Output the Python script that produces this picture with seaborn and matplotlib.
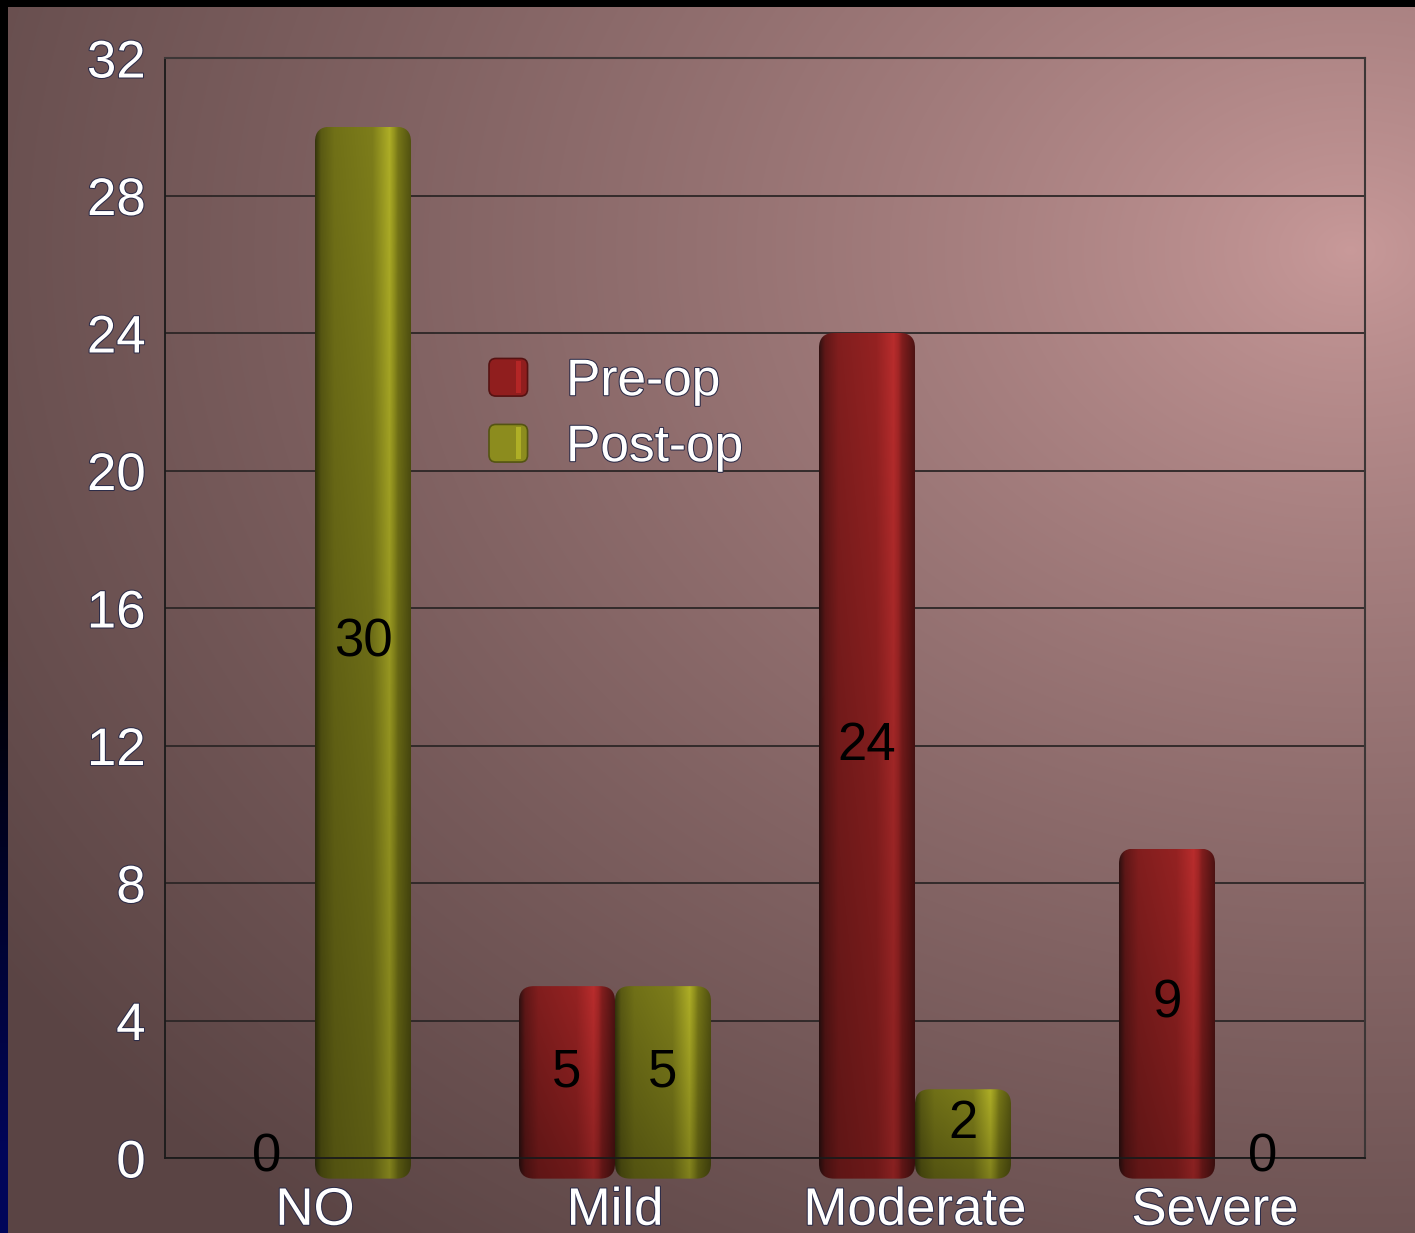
import numpy as np
import pandas as pd
import matplotlib
matplotlib.use("Agg")
import matplotlib.pyplot as plt
import matplotlib.patheffects as pe
import seaborn as sns
from matplotlib.patches import FancyBboxPatch, Rectangle, Patch
from matplotlib.legend_handler import HandlerPatch
from matplotlib.colors import to_rgb

# ---- data -------------------------------------------------------------
categories = ["NO", "Mild", "Moderate", "Severe"]
series = ["Pre-op", "Post-op"]
pre_op = [0, 5, 24, 9]
post_op = [30, 5, 2, 0]
y_ticks = [0, 4, 8, 12, 16, 20, 24, 28, 32]

df = pd.DataFrame({
    "category": categories * 2,
    "series": [series[0]] * len(categories) + [series[1]] * len(categories),
    "value": pre_op + post_op,
})

# ---- style ------------------------------------------------------------
sns.set_theme(style="white")
plt.rcParams["font.family"] = ["Liberation Sans", "DejaVu Sans"]

W, H = 1415, 1233
fig = plt.figure(figsize=(W / 100, H / 100), dpi=100)

# background: soft radial glow from the upper right, dark frame on top/left
yy, xx = np.mgrid[0:H, 0:W].astype(float)
dist = np.sqrt((xx - 1350) ** 2 + ((yy - 250) * 1.3) ** 2)
t = np.clip(dist / 1650.0, 0, 1) ** 0.8
light = np.array([201, 154, 154]) / 255.0
dark = np.array([90, 68, 68]) / 255.0
bg_img = light[None, None, :] + (dark - light)[None, None, :] * t[..., None]
bg_img[:7, :, :] = 0.0
strip = np.zeros((H, 3))
navy = np.clip((np.arange(H) - 650) / 500.0, 0, 1)
strip[:, 2] = 0.35 * navy
strip[:, 1] = 0.02 * navy
bg_img[:, :8, :] = strip[:, None, :]

bg = fig.add_axes([0, 0, 1, 1], zorder=0)
bg.imshow(bg_img, extent=[0, W, H, 0], aspect="auto", interpolation="bilinear")
bg.set_axis_off()

ax = fig.add_axes([165 / W, 75 / H, 1200 / W, 1100 / H], zorder=1)
ax.set_facecolor("none")

pre_color = "#8e2020"
post_color = "#7a7a1a"
sns.barplot(data=df, x="category", y="value", hue="series",
            order=categories, hue_order=series,
            palette=[pre_color, post_color], width=0.64,
            saturation=1, ax=ax, legend=False)

ax.set_xlim(-0.5, 3.5)
ax.set_ylim(0, 32)
ax.set_yticks(y_ticks)
ax.set_xlabel("")
ax.set_ylabel("")
ax.yaxis.grid(True, color="#2c2626", linewidth=1.3)
ax.xaxis.grid(False)
ax.set_axisbelow(True)
for side in ("left", "bottom"):
    ax.spines[side].set_color("#1a1a1a")
    ax.spines[side].set_linewidth(1.3)
for side in ("top", "right"):
    ax.spines[side].set_color("#3c3636")
    ax.spines[side].set_linewidth(1.5)

outline = [pe.withStroke(linewidth=1.5, foreground="#2c2c48")]
ax.tick_params(axis="both", colors="white", labelsize=38, length=0)
ax.tick_params(axis="y", pad=14)
ax.tick_params(axis="x", pad=20)
for lbl in ax.get_xticklabels() + ax.get_yticklabels():
    lbl.set_path_effects(outline)

# ---- rounded, shaded bars -------------------------------------------
stops_u = [0.0, 0.06, 0.2, 0.6, 0.78, 0.83, 0.87, 1.0]
pre_stops = ["#2e1010", "#5a1616", "#7a1c1c", "#8c2020", "#ae2a2a",
             "#9a2424", "#7a1c1c", "#4a1212"]
post_stops = ["#33330c", "#555512", "#6a6a16", "#767619", "#a4a424",
              "#8a8a1c", "#707016", "#4e4e10"]


def bar_gradient(stops, n=96):
    u = np.linspace(0, 1, n)
    rgb = np.array([to_rgb(c) for c in stops])
    row = np.stack([np.interp(u, stops_u, rgb[:, k]) for k in range(3)], axis=-1)
    v = np.linspace(0, 1, n)[:, None]          # 0 = top, 1 = bottom
    factor = 1.06 - 0.28 * v
    img = row[None, :, :] * factor[..., None]
    return np.clip(img, 0, 1)


depth = 0.6            # front face drops a little below the baseline
r_x = 0.05             # corner radius in category units
aspect = (15 / 34.375) / r_x

for container, stops in zip(ax.containers, [pre_stops, post_stops]):
    grad = bar_gradient(stops)
    for patch in container.patches:
        patch.set_facecolor("none")
        patch.set_edgecolor("none")
        h = patch.get_height()
        if h <= 0:
            continue
        x0, w = patch.get_x(), patch.get_width()
        y0, y1 = -depth, h
        im = ax.imshow(grad, extent=[x0, x0 + w, y0, y1], aspect="auto",
                       interpolation="bilinear", zorder=2.5)
        clip = FancyBboxPatch((x0, y0), w, y1 - y0,
                              boxstyle=f"round,pad=0,rounding_size={r_x}",
                              mutation_aspect=aspect, transform=ax.transData,
                              facecolor="none", edgecolor="none")
        ax.add_patch(clip)
        clip.set_clip_on(False)
        im.set_clip_path(clip)
        im.set_clip_box(fig.bbox)

ax.set_xlim(-0.5, 3.5)
ax.set_ylim(0, 32)

for container in ax.containers:
    ax.bar_label(container, labels=[f"{v:g}" for v in container.datavalues],
                 label_type="center", fontsize=38, color="black", zorder=6)


# ---- legend ---------------------------------------------------------
class RoundSquareHandler(HandlerPatch):
    def create_artists(self, legend, orig_handle, xdescent, ydescent,
                       width, height, fontsize, trans):
        fc = np.array(to_rgb(orig_handle.get_facecolor()))
        base = FancyBboxPatch((-xdescent, -ydescent), width, height,
                              boxstyle=f"round,pad=0,rounding_size={width * 0.18}",
                              facecolor=fc, edgecolor=fc * 0.6, linewidth=1.2,
                              transform=trans)
        hl = Rectangle((-xdescent + width * 0.70, -ydescent + height * 0.08),
                       width * 0.13, height * 0.84,
                       facecolor=np.clip(fc * 1.25, 0, 1), edgecolor="none",
                       transform=trans)
        return [base, hl]


handles = [Patch(facecolor="#901e1e"), Patch(facecolor="#8c8c1e")]
leg = ax.legend(handles, series, handler_map={Patch: RoundSquareHandler()},
                loc="upper left", bbox_to_anchor=(0.27, 0.728),
                frameon=False, fontsize=37, labelcolor="white",
                handlelength=0.75, handleheight=0.75, handletextpad=0.75,
                labelspacing=0.33, borderpad=0, borderaxespad=0)
for txt in leg.get_texts():
    txt.set_path_effects(outline)

fig.savefig("out.png", dpi=100)
